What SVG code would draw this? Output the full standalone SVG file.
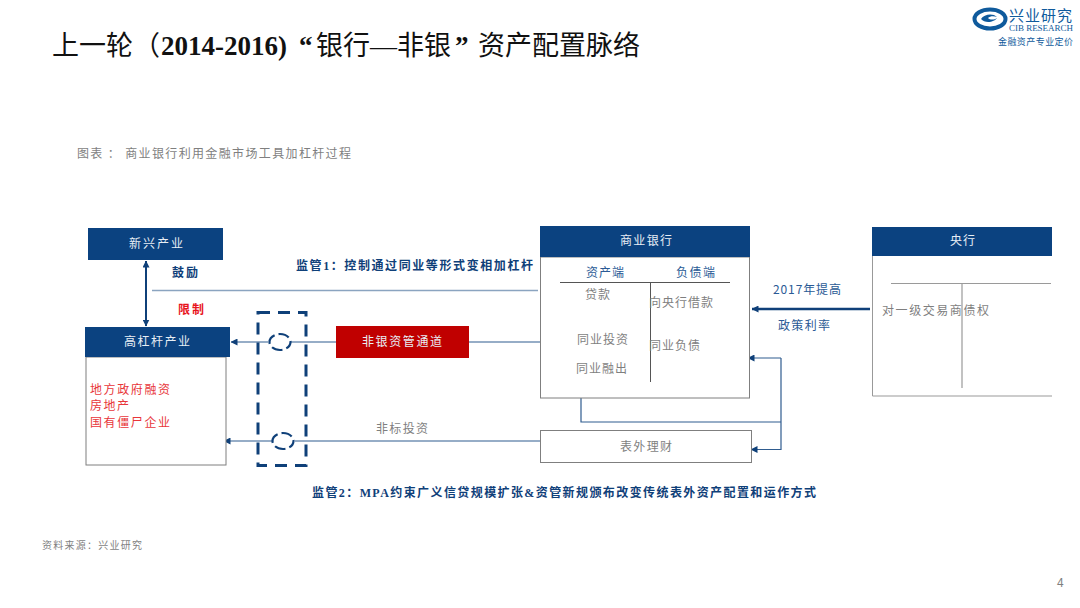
<svg xmlns="http://www.w3.org/2000/svg" width="1080" height="608" viewBox="0 0 1080 608">
<style>
text{font-family:"Noto Sans CJK SC","Noto Sans",sans-serif;font-size:12px;fill:#7f7f7f}
.serif{font-family:"Liberation Serif","Noto Sans CJK SC",serif}
.title{font-size:27px;fill:#111}
.w{fill:#e8eef5}
.b{fill:#0f4079;font-weight:700}
.n{fill:#2a5a95}
.r{fill:#e8363a}
.box{fill:#fff;stroke:#7f7f7f;stroke-width:1}
.ln{fill:none;stroke:#2f5c8f;stroke-width:1.2}
.g{fill:none;stroke:#9a9a9a;stroke-width:1.2}
.dash{fill:none;stroke:#0f4079;stroke-width:3;stroke-dasharray:12 8}
.arc{fill:#fff;stroke:#0f4079;stroke-width:2.2;stroke-dasharray:11 4;stroke-dashoffset:3}
</style>
<defs>
<marker id="a" markerWidth="7" markerHeight="7" refX="6.500" refY="3.500" orient="auto-start-reverse" markerUnits="userSpaceOnUse"><path d="M0 0L7 3.500L0 7Z" fill="#0f4079"/></marker>
</defs>
<rect width="1080" height="608" fill="#fff"/>
<text class="serif title" y="55"><tspan x="52" textLength="108">上一轮（</tspan><tspan x="161" font-weight="700">2014-2016)</tspan><tspan x="299" font-weight="700">“</tspan><tspan x="316">银行—非银</tspan><tspan x="455" font-weight="700">”</tspan><tspan x="478">资产配置脉络</tspan></text>
<g id="logo">
<ellipse cx="990" cy="19" rx="15.500" ry="9.500" fill="none" stroke="#0f5a9c" stroke-width="4"/>
<path d="M981 19c3-5 12-6 16-2c-3-1-7-1-9 1c2 2 6 2 9 0c-2 4-12 6-16 1Z" fill="#0f5a9c"/>
<text class="serif" x="1009" y="21" textLength="63" style="font-size:15px;fill:#0f5a9c">兴业研究</text>
<text class="serif" x="1009" y="31" textLength="64" style="font-size:9px;fill:#0f5a9c">CIB RESEARCH</text>
<text x="998" y="45" textLength="75" style="font-size:9px;fill:#0f5a9c">金融资产专业定价</text>
</g>
<text x="77" y="158" textLength="275" style="letter-spacing:1px">图表 ： 商业银行利用金融市场工具加杠杆过程</text>
<g id="connectors">
<path d="M146 261V326" fill="none" stroke="#0f4079" stroke-width="2" marker-start="url(#a)" marker-end="url(#a)"/>
<path d="M152 290.500H538" fill="none" stroke="#8ba4c0" stroke-width="1.300"/>
<path class="ln" d="M268 342H231" marker-end="url(#a)"/>
<path class="ln" d="M291 342H336M469 342H540"/>
<path class="ln" d="M272 441H224" marker-end="url(#a)"/>
<path class="ln" d="M295 441H540"/>
<path d="M870 309H752" fill="none" stroke="#0f4079" stroke-width="2.500" marker-end="url(#a)"/>
<path class="ln" d="M581 398V422H781"/>
<path class="ln" d="M781 358H748" marker-end="url(#a)"/>
<path class="ln" d="M781 358V449.500H751" marker-end="url(#a)"/>
</g>
<g id="dashed-box"><rect class="dash" x="258" y="312.500" width="48" height="153"/>
<ellipse class="arc" cx="280" cy="342" rx="10.500" ry="8"/>
<ellipse class="arc" cx="283" cy="441" rx="10.500" ry="8"/></g>
<g id="xinxing"><rect x="88" y="228" width="135" height="32" fill="#0b4280"/><text class="w" x="129" y="248" textLength="54">新兴产业</text></g>
<g id="gaoganggan"><rect class="box" x="86" y="357" width="140" height="108"/><rect x="85" y="327" width="145" height="30" fill="#0b4280"/><text class="w" x="124" y="346" textLength="66">高杠杆产业</text>
<text class="r" x="90" y="394" textLength="80">地方政府融资</text><text class="r" x="90" y="410" textLength="39">房地产</text><text class="r" x="90" y="427" textLength="80">国有僵尸企业</text></g>
<g id="feiyin"><rect x="336" y="326" width="133" height="32" fill="#c00000"/><text class="w" x="362" y="346" textLength="80">非银资管通道</text></g>
<g id="bank"><rect class="box" x="540.500" y="257" width="209" height="141"/><rect x="540" y="226" width="210" height="31" fill="#0b4280"/><text class="w" x="620" y="245" textLength="52">商业银行</text>
<path fill="none" stroke="#555" d="M560 282.500H730M650.500 282V382"/>
<text class="n" x="586" y="277" textLength="38">资产端</text><text class="n" x="676" y="277" textLength="39">负债端</text>
<text x="585" y="299" textLength="25">贷款</text><text x="649" y="307" textLength="64">向央行借款</text>
<text x="577" y="344" textLength="51">同业投资</text><text x="649" y="350" textLength="51">同业负债</text><text x="576" y="373" textLength="51">同业融出</text></g>
<g id="biaowai"><rect class="box" x="540.500" y="430.500" width="211" height="32"/><text x="620" y="451" textLength="52">表外理财</text></g>
<g id="central"><path d="M1052 396H872.500V256" fill="#fff" stroke="#999"/><rect x="872" y="227" width="180" height="29" fill="#0b4280"/><text class="w" x="950" y="245" textLength="25">央行</text>
<path class="g" d="M891 283.500H1051M962 283V388"/>
<text x="882" y="315" textLength="107">对一级交易商债权</text></g>
<text class="serif b" x="296" y="270" textLength="237">监管1：控制通过同业等形式变相加杠杆</text>
<text class="serif b" x="312" y="497" textLength="504">监管2：MPA约束广义信贷规模扩张&amp;资管新规颁布改变传统表外资产配置和运作方式</text>
<text class="b" x="172" y="277" textLength="26">鼓励</text>
<text x="178" y="314" textLength="26" style="fill:#e8141c;font-weight:700">限制</text>
<text x="376" y="433" textLength="52">非标投资</text>
<text class="n" x="773" y="294" textLength="68">2017年提高</text>
<text class="n" x="778" y="330" textLength="52">政策利率</text>
<text x="42" y="549" textLength="100" style="font-size:10px">资料来源：兴业研究</text>
<text x="1057" y="587" style="font-size:12px">4</text>
</svg>
